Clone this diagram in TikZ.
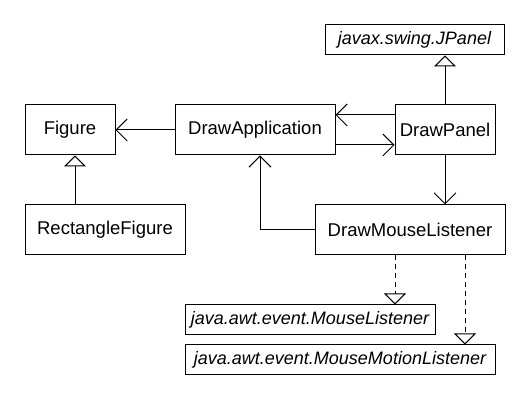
\documentclass[tikz,border=0pt]{standalone}
\usepackage{fontspec}
\setmainfont{Liberation Sans}
\usetikzlibrary{arrows.meta}

\begin{document}
\begin{tikzpicture}[x=1pt, y=-1pt, line width=1pt,
		cls/.style={draw, fill=white, inner sep=0pt, font=\fontsize{18.5}{22}\selectfont},
		iface/.style={cls, font=\fontsize{18}{22}\selectfont\itshape},
		assoc/.style={-{Straight Barb[length=11pt,width=22pt]}},
		inherit/.style={-{Triangle[length=11pt,width=22pt,fill=white]}},
		realize/.style={inherit, dash pattern=on 5pt off 4pt}]
		\useasboundingbox [fill=white] (0, 0) rectangle (531, 411);

		% classes
		\node [cls, minimum width=90pt, minimum height=50pt] (fig) at (70, 130) {Figure};
		\node [cls, minimum width=160pt, minimum height=50pt] (rect) at (105, 230) {RectangleFigure};
		\node [cls, minimum width=160pt, minimum height=50pt] (app) at (255, 130) {DrawApplication};
		\node [cls, minimum width=100pt, minimum height=50pt] (panel) at (445, 130) {DrawPanel};
		\node [cls, minimum width=190pt, minimum height=50pt] (mouse) at (410, 230) {DrawMouseListener};

		% library types
		\node [iface, minimum width=179pt, minimum height=30pt] (jpanel) at (414.5, 40) {javax.swing.JPanel};
		\node [iface, minimum width=250pt, minimum height=30pt] (ml) at (310, 320) {java.awt.event.MouseListener};
		\node [iface, minimum width=310pt, minimum height=30pt] (mml) at (340, 360) {java.awt.event.MouseMotionListener};

		% associations
		\draw [assoc] (app) -- (fig);
		\draw [assoc] ([yshift=15pt]panel.west) -- ([yshift=15pt]app.east);
		\draw [assoc] ([yshift=-15pt]app.east) -- ([yshift=-15pt]panel.west);
		\draw [assoc] (panel.south) -- (panel.south |- mouse.north);
		\draw [assoc] (mouse.west) -| ([xshift=5pt]app.south);

		% inheritance and interfaces
		\draw [inherit] ([xshift=-30pt]rect.north) -- ([xshift=-30pt]rect.north |- fig.south);
		\draw [inherit] (panel.north) -- (panel.north |- jpanel.south);
		\draw [realize] ([xshift=-15pt]mouse.south) -- ([xshift=-15pt]mouse.south |- ml.north);
		\draw [realize] ([xshift=55pt]mouse.south) -- ([xshift=55pt]mouse.south |- mml.north);
	\end{tikzpicture}
\end{document}
